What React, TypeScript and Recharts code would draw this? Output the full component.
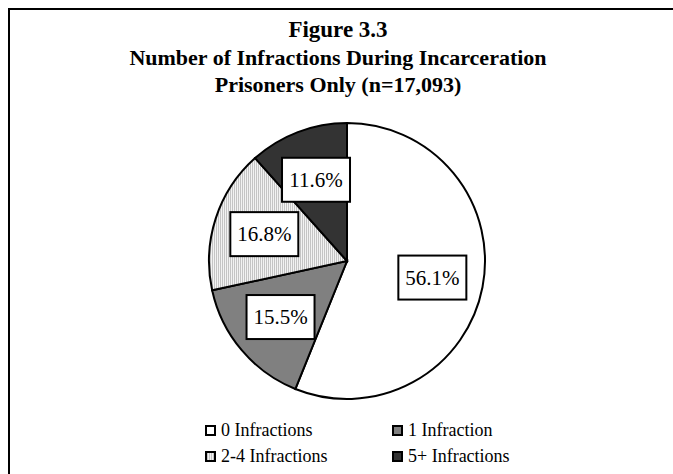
import React from 'react';
import { PieChart, Pie, Cell } from 'recharts';

const categories = ['0 Infractions', '1 Infraction', '2-4 Infractions', '5+ Infractions'];
const shares = [56.1, 15.5, 16.8, 11.6];
const fills = ['#ffffff', '#808080', 'url(#stripes)', '#333333'];
const legendOrder = [0, 1, 2, 3];

const titleLines = ['Figure 3.3', 'Number of Infractions During Incarceration', 'Prisoners Only (n=17,093)'];

const data = categories.map((name, i) => ({ name, value: shares[i] }));

const RADIAN = Math.PI / 180;

const BoxLabel: React.FC<any> = ({ cx, cy, midAngle, outerRadius, value }) => {
  const r = outerRadius * 0.63;
  const x = cx + r * Math.cos(-midAngle * RADIAN);
  const y = cy + r * Math.sin(-midAngle * RADIAN);
  const w = 68;
  const h = 44;
  return (
    <g>
      <rect x={x - w / 2} y={y - h / 2} width={w} height={h} fill="#fff" stroke="#000" strokeWidth={2} />
      <text x={x} y={y + 7} textAnchor="middle" fontFamily="serif" fontSize={21} fill="#000">
        {`${value.toFixed(1)}%`}
      </text>
    </g>
  );
};

const LegendGrid: React.FC = () => (
  <div style={{ display: 'grid', gridTemplateColumns: '187px 160px', rowGap: 5, fontFamily: 'serif', fontSize: 18, color: '#000' }}>
    {legendOrder.map(i => (
      <div key={categories[i]} style={{ display: 'flex', alignItems: 'center', height: 21 }}>
        <svg width={11} height={11} style={{ marginRight: 5 }}>
          <rect x={1} y={1} width={9} height={9} fill={fills[i]} stroke="#000" strokeWidth={2} />
        </svg>
        <span>{categories[i]}</span>
      </div>
    ))}
  </div>
);

export default function App() {
  return (
    <div style={{ position: 'absolute', left: 0, top: 0, width: 673, height: 474, background: '#fff', overflow: 'hidden' }}>
      <div style={{ position: 'absolute', left: 8, top: 8, width: 700, height: 500, borderLeft: '2px solid #000', borderTop: '2px solid #000' }} />
      <div style={{ position: 'absolute', left: 0, top: 16, width: 676, textAlign: 'center', fontFamily: "'Liberation Serif', serif", fontWeight: 'bold', color: '#000' }}>
        <div style={{ fontSize: 23, lineHeight: '28px' }}>{titleLines[0]}</div>
        <div style={{ fontSize: 22, lineHeight: '27px' }}>{titleLines[1]}</div>
        <div style={{ fontSize: 22, lineHeight: '27px' }}>{titleLines[2]}</div>
      </div>
      <PieChart width={673} height={474} margin={{ top: 0, right: 0, bottom: 0, left: 0 }} style={{ position: 'absolute', left: 0, top: 0 }}>
        <defs>
          <pattern id="stripes" width={2} height={4} patternUnits="userSpaceOnUse">
            <rect x={0} y={0} width={1} height={4} fill="#c4c4c4" />
            <rect x={1} y={0} width={1} height={4} fill="#f2f2f2" />
          </pattern>
        </defs>
        <Pie
          data={data}
          dataKey="value"
          nameKey="name"
          cx={347}
          cy={261}
          outerRadius={138}
          startAngle={90}
          endAngle={-270}
          stroke="#000"
          strokeWidth={2}
          label={<BoxLabel />}
          labelLine={false}
          isAnimationActive={false}
        >
          {data.map((entry, index) => (
            <Cell key={`cell-${index}`} fill={fills[index]} />
          ))}
        </Pie>
      </PieChart>
      <div style={{ position: 'absolute', left: 205, top: 420 }}>
        <LegendGrid />
      </div>
    </div>
  );
}
